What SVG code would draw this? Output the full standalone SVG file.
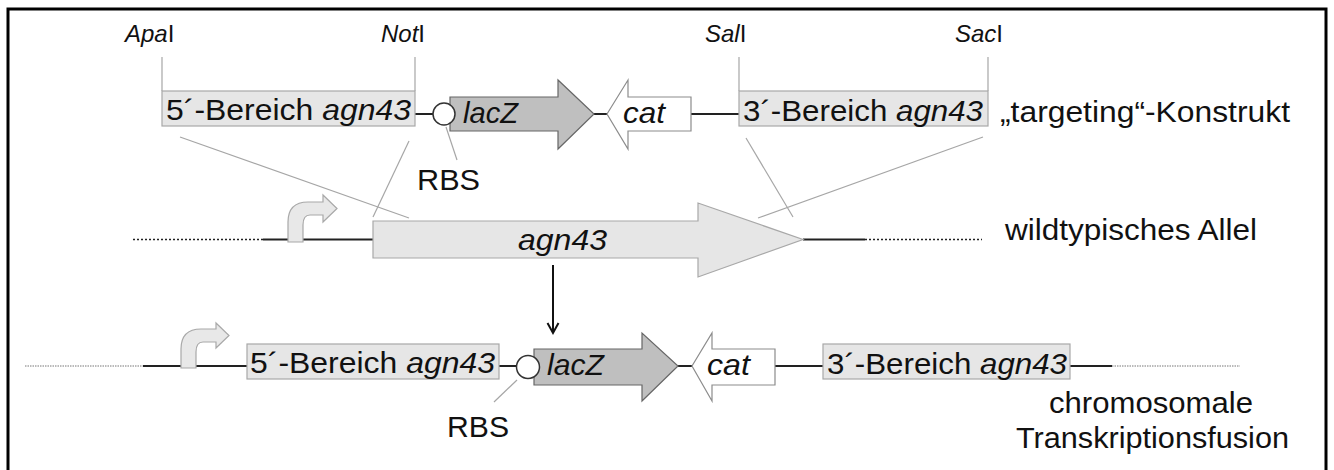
<svg xmlns="http://www.w3.org/2000/svg" width="1334" height="470" viewBox="0 0 1334 470">
<style>
text{font-family:"Liberation Sans",Arial,sans-serif;fill:#111}
.t{font-size:30px}
.s{font-size:24px}
.i{font-style:italic}
.box{fill:#e6e6e6;stroke:#a8a8a8;stroke-width:1.2}
.bb{stroke:#222;stroke-width:2;fill:none}
.dot{stroke:#222;stroke-width:1.5;stroke-dasharray:2 2;fill:none}
.fdot{stroke:#777;stroke-width:1;stroke-dasharray:1.5 1;fill:none}
.gl{stroke:#a6a6a6;stroke-width:1.2;fill:none}
.prom{fill:#e8e8e8;stroke:#a8a8a8;stroke-width:1.2}
.lac{fill:#bfbfbf;stroke:#666;stroke-width:1.2}
.cat{fill:#fff;stroke:#8c8c8c;stroke-width:1.2}
.rbs{fill:#fff;stroke:#333;stroke-width:1.5}
</style>
<rect x="8" y="9" width="1318" height="470" fill="#fff" stroke="#000" stroke-width="3"/>

<g id="connectors">
  <!-- restriction site lines -->
  <line class="gl" x1="162" y1="57" x2="162" y2="91"/>
  <line class="gl" x1="415" y1="57" x2="415" y2="91"/>
  <line class="gl" x1="739" y1="57" x2="739" y2="91"/>
  <line class="gl" x1="988" y1="57" x2="988" y2="91"/>
  <!-- targeting backbone -->
  <line class="bb" x1="415" y1="114" x2="433" y2="114"/>
  <line class="bb" x1="594" y1="114" x2="607" y2="114"/>
  <line class="bb" x1="691" y1="114" x2="739" y2="114"/>
  <line class="gl" x1="446" y1="127" x2="457" y2="160"/>
  <!-- homology lines -->
  <line class="gl" x1="180" y1="137" x2="409" y2="218"/>
  <line class="gl" x1="409" y1="141" x2="373" y2="217"/>
  <line class="gl" x1="746" y1="138" x2="793" y2="217"/>
  <line class="gl" x1="983" y1="137" x2="758" y2="218"/>
  <!-- wildtype backbone -->
  <line class="dot" x1="133" y1="239.5" x2="263" y2="239.5"/>
  <line class="bb" x1="263" y1="239.5" x2="373" y2="239.5"/>
  <line class="bb" x1="803" y1="239.5" x2="865" y2="239.5"/>
  <line class="dot" x1="865" y1="239.5" x2="982" y2="239.5"/>
  <!-- down arrow -->
  <line x1="553" y1="265" x2="553" y2="332" stroke="#111" stroke-width="2"/>
  <polyline points="547.5,323 553,333 558.5,323" fill="none" stroke="#111" stroke-width="2"/>
  <!-- fusion backbone -->
  <line class="fdot" x1="25" y1="366" x2="143" y2="366"/>
  <line class="bb" x1="143" y1="366" x2="247" y2="366"/>
  <line class="bb" x1="499" y1="366" x2="517" y2="366"/>
  <line class="bb" x1="678" y1="366" x2="692" y2="366"/>
  <line class="bb" x1="775" y1="366" x2="823" y2="366"/>
  <line class="bb" x1="1070" y1="366" x2="1112" y2="366"/>
  <line class="fdot" x1="1112" y1="366" x2="1240" y2="366"/>
  <line class="gl" x1="517" y1="380" x2="494" y2="402"/>
</g>

<g id="sites">
  <text class="s" x="125" y="42"><tspan class="i">Apa</tspan>I</text>
  <text class="s" x="381" y="42"><tspan class="i">Not</tspan>I</text>
  <text class="s" x="705" y="42"><tspan class="i">Sal</tspan>I</text>
  <text class="s" x="955" y="42"><tspan class="i">Sac</tspan>I</text>
</g>

<g id="t-5prime">
  <rect class="box" x="162" y="91" width="253" height="35"/>
  <text class="t" x="166" y="120" textLength="245" lengthAdjust="spacingAndGlyphs">5´-Bereich <tspan class="i">agn43</tspan></text>
</g>
<g id="t-lacZ">
  <polygon class="lac" points="450,97 558,97 558,80 594,114 558,149 558,131 450,131"/>
  <text class="t i" x="463" y="123" textLength="55" lengthAdjust="spacingAndGlyphs">lacZ</text>
</g>
<g id="t-rbs">
  <circle class="rbs" cx="444" cy="114" r="11"/>
  <text class="t" x="417" y="190" textLength="63" lengthAdjust="spacingAndGlyphs">RBS</text>
</g>
<g id="t-cat">
  <polygon class="cat" points="607,114 628,80 628,97 691,97 691,131 628,131 628,149"/>
  <text class="t i" x="623" y="123" textLength="42" lengthAdjust="spacingAndGlyphs">cat</text>
</g>
<g id="t-3prime">
  <rect class="box" x="739" y="91" width="249" height="35"/>
  <text class="t" x="743" y="121" textLength="240" lengthAdjust="spacingAndGlyphs">3´-Bereich <tspan class="i">agn43</tspan></text>
</g>
<g id="label-targeting">
  <text class="t" x="1000" y="122" textLength="290" lengthAdjust="spacingAndGlyphs">„targeting“-Konstrukt</text>
</g>

<g id="wt-promoter">
  <path class="prom" d="M288,242 L288,222 Q288,202 308,202 L323,202 L323,195 L337,208.5 L323,222 L323,215 L310,215 Q303,215 303,225 L303,242 Z"/>
</g>
<g id="wt-agn43">
  <polygon class="box" points="373,221 698,221 698,203 803,239.5 698,277 698,258 373,258"/>
  <text class="t i" x="518" y="250" textLength="89" lengthAdjust="spacingAndGlyphs">agn43</text>
</g>
<g id="label-wildtyp">
  <text class="t" x="1005" y="240" textLength="252" lengthAdjust="spacingAndGlyphs">wildtypisches Allel</text>
</g>

<g id="f-promoter">
  <path class="prom" d="M181,368 L181,349 Q181,329 201,329 L216,329 L216,323 L229,335.5 L216,348 L216,342 L203,342 Q196,342 196,352 L196,368 Z"/>
</g>
<g id="f-5prime">
  <rect class="box" x="247" y="344" width="252" height="35"/>
  <text class="t" x="250" y="373" textLength="245" lengthAdjust="spacingAndGlyphs">5´-Bereich <tspan class="i">agn43</tspan></text>
</g>
<g id="f-lacZ">
  <polygon class="lac" points="534,349 642,349 642,333 678,366 642,401 642,385 534,385"/>
  <text class="t i" x="547" y="375" textLength="57" lengthAdjust="spacingAndGlyphs">lacZ</text>
</g>
<g id="f-rbs">
  <circle class="rbs" cx="528" cy="367" r="11.5"/>
  <text class="t" x="447" y="437" textLength="62" lengthAdjust="spacingAndGlyphs">RBS</text>
</g>
<g id="f-cat">
  <polygon class="cat" points="692,366 712,333 712,349 775,349 775,385 712,385 712,401"/>
  <text class="t i" x="707" y="375" textLength="43" lengthAdjust="spacingAndGlyphs">cat</text>
</g>
<g id="f-3prime">
  <rect class="box" x="823" y="344" width="247" height="35"/>
  <text class="t" x="827" y="374" textLength="240" lengthAdjust="spacingAndGlyphs">3´-Bereich <tspan class="i">agn43</tspan></text>
</g>
<g id="label-fusion">
  <text class="t" x="1151" y="413" text-anchor="middle" textLength="204" lengthAdjust="spacingAndGlyphs">chromosomale</text>
  <text class="t" x="1152.5" y="448" text-anchor="middle" textLength="273" lengthAdjust="spacingAndGlyphs">Transkriptionsfusion</text>
</g>
</svg>
